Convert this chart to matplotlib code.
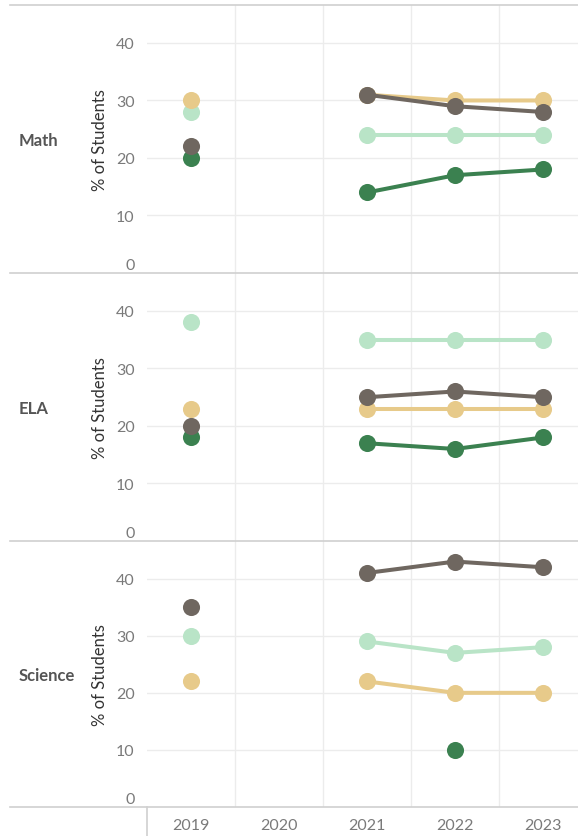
import numpy as np
import matplotlib
matplotlib.use("Agg")
import matplotlib.pyplot as plt
from matplotlib.lines import Line2D
import matplotlib.transforms as mtransforms

plt.rcParams['font.family'] = ['Lato', 'DejaVu Sans']

years = ["2019", "2020", "2021", "2022", "2023"]
subjects = ["Math", "ELA", "Science"]
nan = np.nan

# series per subject (2020 missing)
dark_green = {
    "Math":    [20, nan, 14, 17, 18],
    "ELA":     [18, nan, 17, 16, 18],
    "Science": [nan, nan, nan, 10, nan],
}
light_green = {
    "Math":    [28, nan, 24, 24, 24],
    "ELA":     [38, nan, 35, 35, 35],
    "Science": [30, nan, 29, 27, 28],
}
tan = {
    "Math":    [30, nan, 31, 30, 30],
    "ELA":     [23, nan, 23, 23, 23],
    "Science": [22, nan, 22, 20, 20],
}
gray = {
    "Math":    [22, nan, 31, 29, 28],
    "ELA":     [20, nan, 25, 26, 25],
    "Science": [35, nan, 41, 43, 42],
}
yticks = [0, 10, 20, 30, 40]

series = [
    (dark_green, "#3b8150", 3),
    (light_green, "#b9e4c7", 4),
    (tan, "#e7ca8a", 5),
    (gray, "#6f6760", 6),
]

W, H = 578, 837
fig = plt.figure(figsize=(W / 100, H / 100), dpi=100)

panel_edges = [(6, 274), (274, 542), (542, 808)]
ax_left = 147
x = np.arange(len(years))
xmax = 4.5 - (587 - 578) / 88.25
grid_c = "#ececec"
sep_c = "#d0d0d0"
tick_fs = 11.5

for subj, (top, bot) in zip(subjects, panel_edges):
    ax = fig.add_axes([ax_left / W, 1 - bot / H, (W - ax_left) / W, (bot - top) / H])
    ax.set_xlim(-0.5, xmax)
    ax.set_ylim(0, 46.6)
    for s in ax.spines.values():
        s.set_visible(False)
    for yv in yticks[1:]:
        ax.axhline(yv, color=grid_c, lw=1, zorder=0)
    for xv in [0.5, 1.5, 2.5, 3.5]:
        ax.axvline(xv, color=grid_c, lw=1, zorder=0)
    for data, col, z in series:
        ax.plot(x, data[subj], color=col, lw=2.9, marker="o", markersize=12.3,
                markeredgewidth=0, zorder=z, solid_capstyle="round")
    ax.set_xticks([])
    ax.set_yticks(yticks)
    ax.set_yticklabels([str(t) for t in yticks])
    ax.tick_params(axis="y", length=0, pad=9, labelsize=tick_fs, labelcolor="#7a7a7a")
    # shift the zero label up inside the panel
    lbl0 = ax.get_yticklabels()[0]
    lbl0.set_transform(lbl0.get_transform() + mtransforms.ScaledTranslation(0, 9 / 100, fig.dpi_scale_trans))
    ax.set_ylabel("% of Students", fontsize=12, color="#333333")
    ax.yaxis.set_label_coords(-(147 - 100) / (W - ax_left), 0.5)
    ax.yaxis.label.set_va("center")
    fig.text(19 / W, 1 - ((top + bot) / 2 + 1) / H, subj, fontsize=12, fontweight="bold",
             color="#555555", ha="left", va="center")
    if subj == "Science":
        tr = mtransforms.blended_transform_factory(ax.transData, fig.transFigure)
        for i, yr in enumerate(years):
            ax.text(i, 1 - 826 / H, yr, transform=tr, ha="center", va="center",
                    fontsize=tick_fs, color="#7a7a7a", clip_on=False)

# separator lines
for yp in [6, 274, 542, 808]:
    fig.add_artist(Line2D([10 / W, 1], [1 - yp / H, 1 - yp / H], color=sep_c, lw=1.2))
fig.add_artist(Line2D([ax_left / W, ax_left / W], [1 - 808 / H, 0], color=sep_c, lw=1.2))

fig.savefig("out.png", dpi=100, facecolor="white")
